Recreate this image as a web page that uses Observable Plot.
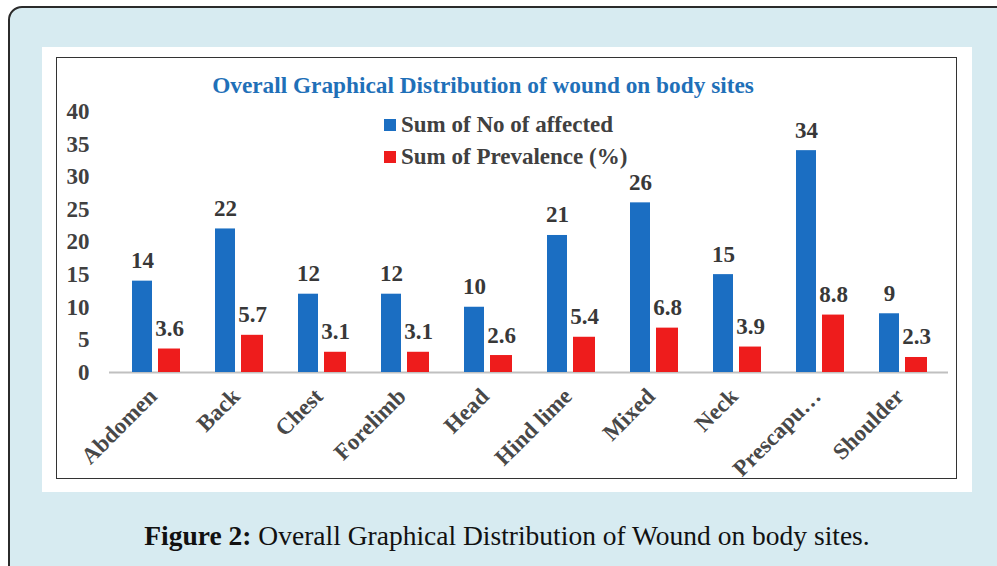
<!DOCTYPE html>
<html><head><meta charset="utf-8">
<script src="https://cdn.jsdelivr.net/npm/d3@7"></script>
<script src="https://cdn.jsdelivr.net/npm/@observablehq/plot@0.6"></script>
<style>
html,body{margin:0;padding:0;background:#fff;}
body{width:997px;height:566px;overflow:hidden;position:relative;font-family:"Liberation Serif",serif;}
#outer{position:absolute;left:8px;top:6px;width:1030px;height:620px;background:#d7ebf1;border:2px solid #2b2b2b;border-radius:14px;box-sizing:border-box;}
#panel{position:absolute;left:42px;top:47px;width:930px;height:445px;background:#fff;}
#frame{position:absolute;left:56px;top:57px;width:901px;height:422px;border:1.5px solid #333;box-sizing:border-box;}
#chart{position:absolute;left:56px;top:57px;}
#title{position:absolute;left:0;width:966px;top:72px;text-align:center;font:bold 23.3px "Liberation Serif",serif;color:#1f70b8;line-height:26px;}
#legend{position:absolute;left:384px;top:109px;font:bold 23px "Liberation Serif",serif;color:#404040;}
#legend .row{display:flex;align-items:center;height:32px;}
#legend .sw{width:12px;height:12px;margin-right:5px;}
#caption{position:absolute;left:0;width:1014px;top:520px;text-align:center;font-size:27.5px;color:#111;font-family:"Liberation Serif",serif;}
</style>
</head><body>
<div id="outer"></div>
<div id="panel"></div>
<div id="frame"></div>
<div id="chart"></div>
<div id="title"></div>
<div id="legend"></div>
<div id="caption"></div>
<script>
const titleText = "Overall Graphical Distribution of wound on body sites";
const sites = ["Abdomen","Back","Chest","Forelimb","Head","Hind lime","Mixed","Neck","Prescapu…","Shoulder"];
const affected = [14,22,12,12,10,21,26,15,34,9];
const prevalence = [3.6,5.7,3.1,3.1,2.6,5.4,6.8,3.9,8.8,2.3];
const seriesNames = ["Sum of No of affected","Sum of Prevalence (%)"];
const seriesColors = ["#1b6ec2","#ee1c1c"];
const yTicks = [0,5,10,15,20,25,30,35,40];
const captionBold = "Figure 2:";
const captionRest = " Overall Graphical Distribution of Wound on body sites.";

const rowsA = sites.map((s,i)=>({site:s, value:affected[i], series:seriesNames[0]}));
const rowsP = sites.map((s,i)=>({site:s, value:prevalence[i], series:seriesNames[1]}));

const chart = Plot.plot({
  width: 901,
  height: 422,
  marginLeft: 53,
  marginRight: 9,
  marginTop: 54,
  marginBottom: 107,
  style: {fontFamily: '"Liberation Serif", serif', fontSize: "23px", fontWeight: "bold", color: "#404040", background: "transparent"},
  x: {domain: sites, padding: 0},
  y: {domain: [0, 40]},
  marks: [
    Plot.ruleY([0], {stroke: "#c0c0c0", strokeWidth: 2}),
    Plot.barY(rowsA, {x: "site", y: "value", fill: seriesColors[0], insetLeft: 18, insetRight: 45}),
    Plot.barY(rowsP, {x: "site", y: "value", fill: seriesColors[1], insetLeft: 44, insetRight: 17}),
    Plot.text(rowsA, {x: "site", y: "value", text: d => String(d.value), dx: -13.5, dy: -13, lineAnchor: "bottom", fontSize: 23, fontWeight: "bold", fill: "#383838"}),
    Plot.text(rowsP, {x: "site", y: "value", text: d => d.value.toFixed(1), dx: 13.5, dy: -13, lineAnchor: "bottom", fontSize: 23, fontWeight: "bold", fill: "#383838"}),
    Plot.axisY({ticks: yTicks, tickSize: 0, tickPadding: 20, label: null, fontSize: 23, fontWeight: "bold"}),
    Plot.axisX({tickSize: 0, tickRotate: -45, tickPadding: 20, dx: -3, label: null, fontSize: 23, fontWeight: "bold", fill: "#484848"})
  ]
});
document.getElementById("chart").appendChild(chart);
document.getElementById("title").textContent = titleText;
const leg = document.getElementById("legend");
seriesNames.forEach((n,i)=>{
  const r = document.createElement("div"); r.className="row";
  const sw = document.createElement("span"); sw.className="sw"; sw.style.background = seriesColors[i];
  const t = document.createElement("span"); t.textContent = n;
  r.appendChild(sw); r.appendChild(t); leg.appendChild(r);
});
const cap = document.getElementById("caption");
const b = document.createElement("b"); b.textContent = captionBold;
cap.appendChild(b); cap.appendChild(document.createTextNode(captionRest));
</script>
</body></html>
